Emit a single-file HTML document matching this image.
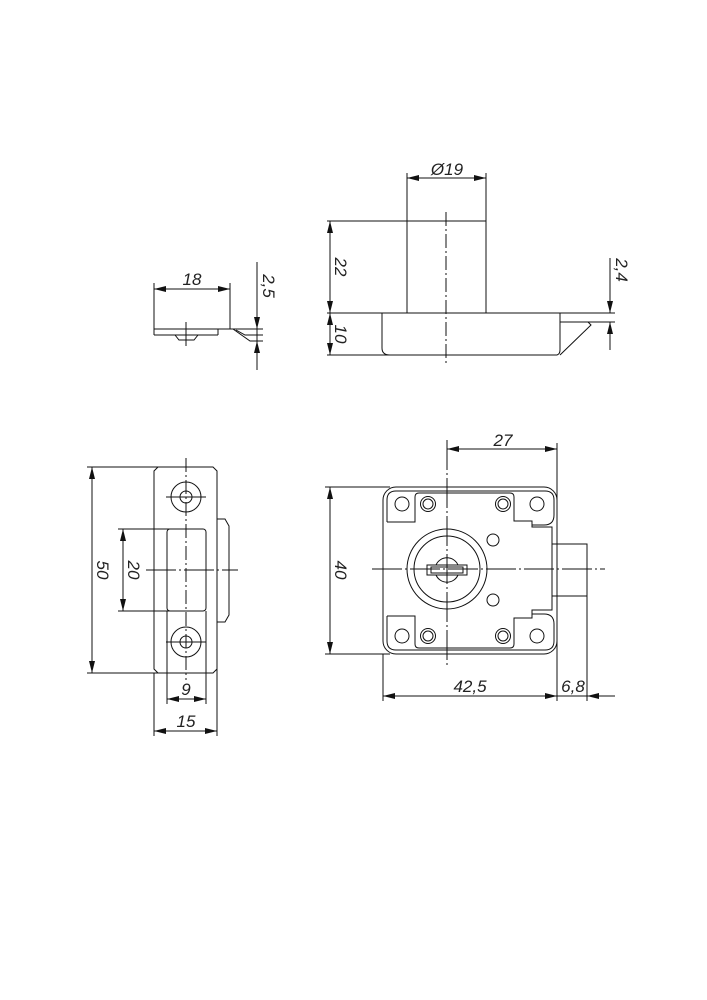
<!DOCTYPE html>
<html><head><meta charset="utf-8"><style>
html,body{margin:0;padding:0;background:#fff;}
svg{display:block;}
text{font-family:"Liberation Sans",sans-serif;font-style:italic;font-size:17px;fill:#222;}
</style></head><body>
<svg width="707" height="1000" viewBox="0 0 707 1000" xmlns="http://www.w3.org/2000/svg">
<defs>
<marker id="a" viewBox="0 0 12 6" refX="12" refY="3" markerWidth="12" markerHeight="6" orient="auto-start-reverse" markerUnits="userSpaceOnUse">
<path d="M0,0 L12,3 L0,6 z" fill="#111"/></marker>
</defs>
<g fill="none" stroke="#111" stroke-width="1">
<!-- ===== small side view ===== -->
<line x1="154" y1="283" x2="154" y2="329"/>
<line x1="230" y1="283" x2="230" y2="329"/>
<line x1="154" y1="289" x2="230" y2="289" marker-start="url(#a)" marker-end="url(#a)"/>
<line x1="154" y1="329" x2="263" y2="329"/>
<line x1="154" y1="335" x2="218" y2="335"/>
<line x1="154" y1="329" x2="154" y2="335"/>
<path d="M218,329 L218,335"/>
<path d="M236,330 L245,335 L263,335"/>
<path d="M233,329 L250,341 L263,341"/>
<path d="M175,335 L179,340 L194,340 L198,335"/>
<line x1="186" y1="322" x2="186" y2="346"/>
<line x1="257" y1="262" x2="257" y2="329" marker-end="url(#a)"/>
<line x1="257" y1="370" x2="257" y2="341" marker-end="url(#a)"/>
<line x1="257" y1="329" x2="257" y2="341"/>

<!-- ===== top view ===== -->
<line x1="407" y1="173" x2="407" y2="221"/>
<line x1="486" y1="173" x2="486" y2="221"/>
<line x1="407" y1="178" x2="486" y2="178" marker-start="url(#a)" marker-end="url(#a)"/>
<rect x="407" y="221" width="79" height="92"/>
<line x1="327" y1="221" x2="407" y2="221"/>
<line x1="327" y1="313" x2="615" y2="313"/>
<line x1="327" y1="355" x2="390" y2="355"/>
<path d="M382,313 L382,348 Q382,355 390,355 L557,355 Q560,354 560,350 L560,313"/>
<path d="M560,322 L588,322 L591,325 L560,355"/>
<line x1="588" y1="322" x2="615" y2="322"/>
<line x1="330" y1="221" x2="330" y2="313" marker-start="url(#a)" marker-end="url(#a)"/>
<line x1="330" y1="313" x2="330" y2="355" marker-start="url(#a)" marker-end="url(#a)"/>
<line x1="610" y1="258" x2="610" y2="313" marker-end="url(#a)"/>
<line x1="610" y1="350" x2="610" y2="322" marker-end="url(#a)"/>
<line x1="446" y1="212" x2="446" y2="363" stroke-dasharray="14,3,2,3"/>

<!-- ===== left view ===== -->
<path d="M158,467 L213,467 L217,471 L217,669 L213,673 L158,673 L154,669 L154,471 Z"/>
<rect x="167" y="529" width="39" height="82" rx="3"/>
<path d="M217,519 L225,519 L229,526 L229,615 L225,622 L217,622"/>
<circle cx="186" cy="497" r="15"/><circle cx="186" cy="497" r="6"/>
<circle cx="186" cy="642" r="15"/><circle cx="186" cy="642" r="6"/>
<line x1="166" y1="497" x2="206" y2="497"/>
<line x1="166" y1="642" x2="206" y2="642"/>
<line x1="186" y1="458" x2="186" y2="680" stroke-dasharray="14,3,2,3"/>
<line x1="146" y1="570" x2="238" y2="570" stroke-dasharray="30,3,2,3"/>
<line x1="87" y1="467" x2="158" y2="467"/>
<line x1="87" y1="673" x2="158" y2="673"/>
<line x1="92" y1="467" x2="92" y2="673" marker-start="url(#a)" marker-end="url(#a)"/>
<line x1="118" y1="529" x2="170" y2="529"/>
<line x1="118" y1="611" x2="170" y2="611"/>
<line x1="123" y1="529" x2="123" y2="611" marker-start="url(#a)" marker-end="url(#a)"/>
<line x1="167" y1="611" x2="167" y2="704"/>
<line x1="206" y1="611" x2="206" y2="704"/>
<line x1="167" y1="699" x2="206" y2="699" marker-start="url(#a)" marker-end="url(#a)"/>
<line x1="154" y1="673" x2="154" y2="736"/>
<line x1="217" y1="669" x2="217" y2="736"/>
<line x1="154" y1="731" x2="217" y2="731" marker-start="url(#a)" marker-end="url(#a)"/>

<!-- ===== front view ===== -->
<rect x="383" y="487" width="174" height="167" rx="13"/>
<path d="M387,522 L387,500 Q387,491 396,491 L545,491 Q554,491 554,500 L554,515 Q554,525 544,525 L532,525"/>
<path d="M387,616 L387,641 Q387,650 396,650 L545,650 Q554,650 554,641 L554,624 Q554,614 544,614 L532,614"/>
<path d="M387,522 L415,522 L415,497 Q415,493 419,493 L510,493 Q514,493 514,497 L514,521 L532,521 L532,527 L552,527 L552,610 L532,610 L532,618 L514,618 L514,644 Q514,648 510,648 L419,648 Q415,648 415,644 L415,616 L387,616"/>
<circle cx="402" cy="504" r="7"/><circle cx="537" cy="504" r="7"/>
<circle cx="402" cy="636" r="7"/><circle cx="537" cy="636" r="7"/>
<circle cx="428" cy="504" r="7.5"/><circle cx="428" cy="504" r="5"/>
<circle cx="503" cy="504" r="7.5"/><circle cx="503" cy="504" r="5"/>
<circle cx="428" cy="636" r="7.5"/><circle cx="428" cy="636" r="5"/>
<circle cx="503" cy="636" r="7.5"/><circle cx="503" cy="636" r="5"/>
<circle cx="493" cy="540" r="6"/><circle cx="493" cy="600" r="6"/>
<circle cx="447" cy="569" r="40"/><circle cx="447" cy="569" r="33"/>
<path d="M436,565 A12,12 0 0 1 458,565 M436,575 A12,12 0 0 0 458,575"/>
<rect x="427" y="565" width="40" height="10"/>
<rect x="431" y="567" width="32" height="6"/>
<rect x="552" y="544" width="35" height="52"/>
<line x1="372" y1="569" x2="605" y2="569" stroke-dasharray="30,3,2,3"/>
<line x1="447" y1="440" x2="447" y2="665" stroke-dasharray="30,3,2,3"/>
<line x1="557" y1="443" x2="557" y2="701"/>
<line x1="447" y1="449" x2="557" y2="449" marker-start="url(#a)" marker-end="url(#a)"/>
<line x1="325" y1="487" x2="390" y2="487"/>
<line x1="325" y1="654" x2="390" y2="654"/>
<line x1="330" y1="487" x2="330" y2="654" marker-start="url(#a)" marker-end="url(#a)"/>
<line x1="383" y1="654" x2="383" y2="701"/>
<line x1="587" y1="596" x2="587" y2="701"/>
<line x1="383" y1="696" x2="557" y2="696" marker-start="url(#a)" marker-end="url(#a)"/>
<line x1="615" y1="696" x2="587" y2="696" marker-end="url(#a)"/>
<line x1="557" y1="696" x2="587" y2="696"/>
</g>
<g>
<text x="192" y="285" text-anchor="middle">18</text>
<text transform="translate(263,286) rotate(90)" text-anchor="middle">2,5</text>
<text x="447" y="175" text-anchor="middle">Ø19</text>
<text transform="translate(335,267) rotate(90)" text-anchor="middle">22</text>
<text transform="translate(335,334) rotate(90)" text-anchor="middle">10</text>
<text transform="translate(616,270) rotate(90)" text-anchor="middle">2,4</text>
<text transform="translate(97,570) rotate(90)" text-anchor="middle">50</text>
<text transform="translate(128,570) rotate(90)" text-anchor="middle">20</text>
<text x="186" y="695" text-anchor="middle">9</text>
<text x="186" y="727" text-anchor="middle">15</text>
<text x="503" y="446" text-anchor="middle">27</text>
<text transform="translate(335,570) rotate(90)" text-anchor="middle">40</text>
<text x="470" y="692" text-anchor="middle">42,5</text>
<text x="573" y="692" text-anchor="middle">6,8</text>
</g>
</svg>
</body></html>
